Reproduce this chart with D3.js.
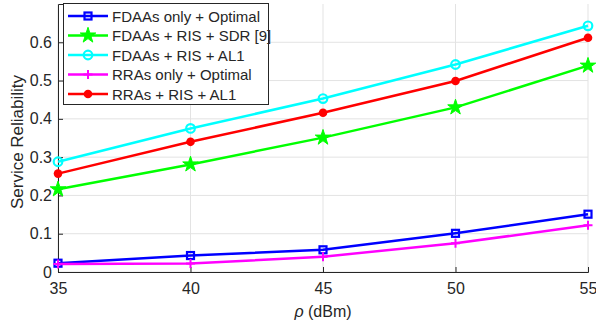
<!DOCTYPE html>
<html>
<head>
<meta charset="utf-8">
<script src="https://cdn.jsdelivr.net/npm/d3@7"></script>
<style>
  body { margin: 0; background: #fff; }
  svg text { font-family: "Liberation Sans", Arial, sans-serif; fill: #262626; }
</style>
</head>
<body>
<svg id="chart" width="596" height="331"></svg>
<script>
// x values (rho, dBm)
var rho = [35, 40, 45, 50, 55];
var yTicks = [0, 0.1, 0.2, 0.3, 0.4, 0.5, 0.6];

var fdaaOptimal = [0.023, 0.043, 0.058, 0.101, 0.151];
var fdaaSdr = [0.216, 0.281, 0.351, 0.430, 0.539];
var fdaaAl1 = [0.288, 0.375, 0.453, 0.542, 0.643];
var rraOptimal = [0.021, 0.022, 0.040, 0.075, 0.122];
var rraAl1 = [0.257, 0.340, 0.416, 0.499, 0.612];

var seriesNames = ["FDAAs only + Optimal", "FDAAs + RIS + SDR [9]", "FDAAs + RIS + AL1", "RRAs only + Optimal", "RRAs + RIS + AL1"];

var series = [
  { name: seriesNames[0], values: fdaaOptimal, color: "#0000ff", marker: "square" },
  { name: seriesNames[1], values: fdaaSdr, color: "#00ff00", marker: "star" },
  { name: seriesNames[2], values: fdaaAl1, color: "#00ffff", marker: "circle" },
  { name: seriesNames[3], values: rraOptimal, color: "#ff00ff", marker: "plus" },
  { name: seriesNames[4], values: rraAl1, color: "#ff0000", marker: "dot" }
];

var svg = d3.select("#chart");
var margin = { top: 4, right: 8, bottom: 59, left: 58 };
var width = 596, height = 331;

var x = d3.scaleLinear().domain([35, 55]).range([margin.left, width - margin.right]);
var y = d3.scaleLinear().domain([0, 0.7]).range([height - margin.bottom, margin.top]);

// grid
var grid = svg.append("g").attr("stroke", "#e3e3e3").attr("stroke-width", 1);
grid.selectAll(".gx").data(rho).enter().append("line")
    .attr("x1", d => x(d)).attr("x2", d => x(d))
    .attr("y1", y(0)).attr("y2", y(0.7));
grid.selectAll(".gy").data(yTicks).enter().append("line")
    .attr("x1", x(35)).attr("x2", x(55))
    .attr("y1", d => y(d)).attr("y2", d => y(d));

// axes (ticks inward like matlab)
var xAxis = d3.axisBottom(x).tickValues(rho).tickSize(-5).tickPadding(11).tickFormat(d3.format("d"));
var yAxis = d3.axisLeft(y).tickValues(yTicks).tickSize(-5).tickPadding(6).tickFormat(d => d === 0 ? "0" : d3.format(".1f")(d));

var gx = svg.append("g").attr("transform", "translate(0," + y(0) + ")").call(xAxis);
var gy = svg.append("g").attr("transform", "translate(" + x(35) + ",0)").call(yAxis);
[gx, gy].forEach(function (g) {
  g.select(".domain").attr("stroke", "#262626");
  g.selectAll(".tick line").attr("stroke", "#262626");
  g.selectAll(".tick text").attr("font-size", 16).attr("fill", "#262626")
    .style("font-family", "'Liberation Sans', Arial, sans-serif");
});

// labels
svg.append("text")
    .attr("transform", "rotate(-90)")
    .attr("x", -142)
    .attr("y", 23)
    .attr("text-anchor", "middle")
    .attr("font-size", 17)
    .text("Service Reliability");

var xl = svg.append("text")
    .attr("x", (x(35) + x(55)) / 2)
    .attr("y", 317)
    .attr("text-anchor", "middle")
    .attr("font-size", 16);
xl.append("tspan").attr("font-style", "italic").text("ρ");
xl.append("tspan").text(" (dBm)");

// markers
function drawMarker(g, type, color, cx, cy) {
  if (type === "square") {
    g.append("rect").attr("x", cx - 3.5).attr("y", cy - 3.5).attr("width", 7).attr("height", 7)
      .attr("fill", "none").attr("stroke", color).attr("stroke-width", 2.2);
  } else if (type === "circle") {
    g.append("circle").attr("cx", cx).attr("cy", cy).attr("r", 4.3)
      .attr("fill", "none").attr("stroke", color).attr("stroke-width", 2.2);
  } else if (type === "dot") {
    g.append("circle").attr("cx", cx).attr("cy", cy).attr("r", 4.3).attr("fill", color);
  } else if (type === "plus") {
    g.append("path").attr("d", "M" + (cx - 4.5) + "," + cy + "H" + (cx + 4.5) + "M" + cx + "," + (cy - 4.5) + "V" + (cy + 4.5))
      .attr("stroke", color).attr("stroke-width", 2);
  } else if (type === "star") {
    g.append("path").attr("d", d3.symbol().type(d3.symbolStar).size(75)())
      .attr("transform", "translate(" + cx + "," + cy + ")")
      .attr("fill", color).attr("stroke", color).attr("stroke-width", 1);
  }
}

var line = d3.line().x((d, i) => x(rho[i])).y(d => y(d));

series.forEach(function (s) {
  var g = svg.append("g");
  g.append("path").datum(s.values).attr("d", line)
    .attr("fill", "none").attr("stroke", s.color).attr("stroke-width", 2.5);
  s.values.forEach(function (v, i) { drawMarker(g, s.marker, s.color, x(rho[i]), y(v)); });
});

// legend
var legend = svg.append("g");
legend.append("rect").attr("x", 63.5).attr("y", 3.5).attr("width", 205).attr("height", 101)
    .attr("fill", "#fff").attr("stroke", "#262626").attr("stroke-width", 1);
series.forEach(function (s, i) {
  var ly = 16 + i * 19.5;
  legend.append("line").attr("x1", 68).attr("x2", 108).attr("y1", ly).attr("y2", ly)
    .attr("stroke", s.color).attr("stroke-width", 2.5);
  drawMarker(legend, s.marker, s.color, 88, ly);
  legend.append("text").attr("x", 112).attr("y", ly + 5.5).attr("font-size", 15).text(s.name);
});
</script>
</body>
</html>
